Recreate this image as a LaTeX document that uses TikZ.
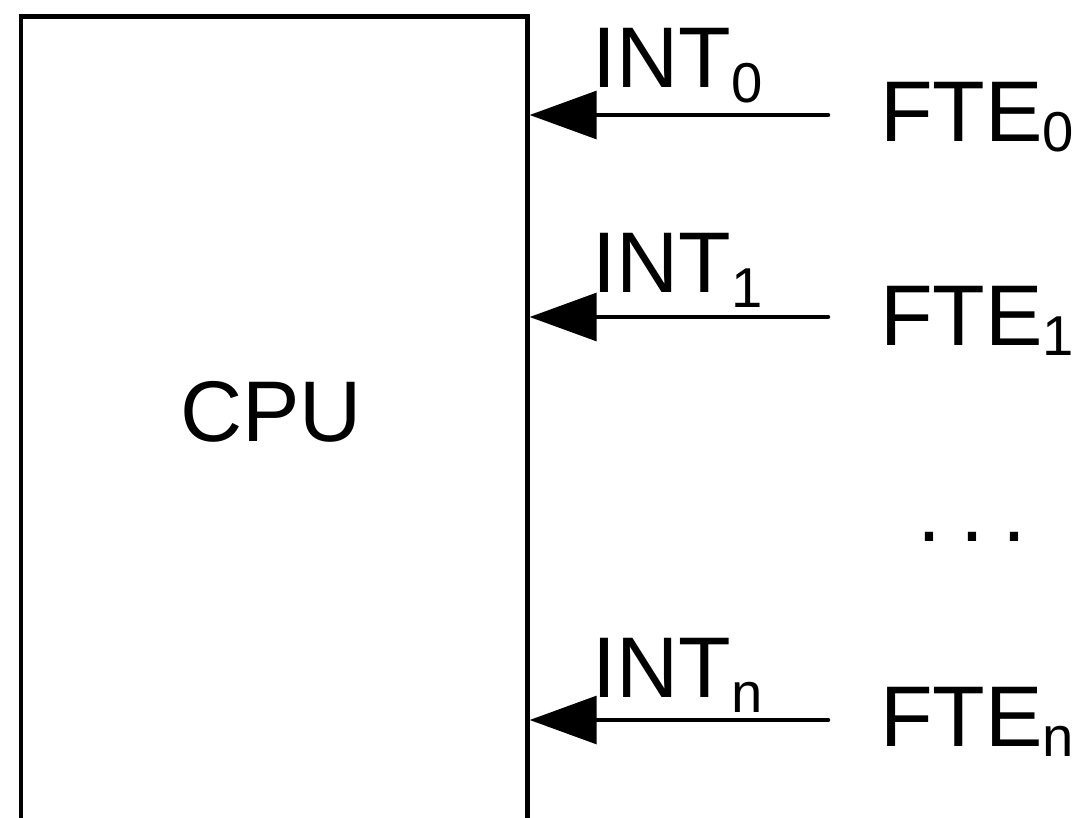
\documentclass[tikz,border=0pt]{standalone}
\usepackage{fontspec}
\setmainfont{Liberation Sans}
\usetikzlibrary{arrows.meta,positioning}
\newcommand{\bigtxt}{\fontsize{49}{52}\selectfont}
\newcommand{\idx}[2]{\raisebox{-#1}{\fontsize{32}{34}\selectfont #2}}
\tikzset{
    cpubox/.style={draw,line width=2.6pt,minimum width=10.13cm,minimum height=16.7cm,inner sep=0pt,anchor=north west},
    lbl/.style={inner sep=0pt,anchor=base west,font=\bigtxt},
    sig/.style={-{Triangle[length=1.34cm,width=0.95cm]},line width=2.6pt,line cap=round}
}

\begin{document}
\begin{tikzpicture}[x=0.2mm,y=-0.2mm]
    \useasboundingbox (0,0) rectangle (1079,818);
    \node[cpubox] (cpu) at (18.5,14) {};
    \node[font=\bigtxt,inner sep=0pt,anchor=base] (cpulbl) at (271,441) {CPU};

    \coordinate (in0) at (828,115);
    \coordinate (in1) at (828,317);
    \coordinate (inn) at (828,720);

    \node[lbl] (int0) at (592,88) {INT\idx{3mm}{0}};
    \node[lbl] (int1) at (592,292) {INT\idx{3mm}{1}};
    \node[lbl] (intn) at (592,697) {INT\idx{3mm}{n}};

    \node[lbl] (fte0) at (880,142) {FTE\idx{2mm}{0}};
    \node[lbl] (fte1) at (880,345) {FTE\idx{2mm}{1}};
    \node[lbl,anchor=base] (dots) at (972,541) {.\hspace{0.38cm}.\hspace{0.38cm}.};
    \node[lbl] (ften) at (880,746) {FTE\idx{2mm}{n}};

    \draw[sig] (in0) -- (in0 -| cpu.east);
    \draw[sig] (in1) -- (in1 -| cpu.east);
    \draw[sig] (inn) -- (inn -| cpu.east);
\end{tikzpicture}
\end{document}
